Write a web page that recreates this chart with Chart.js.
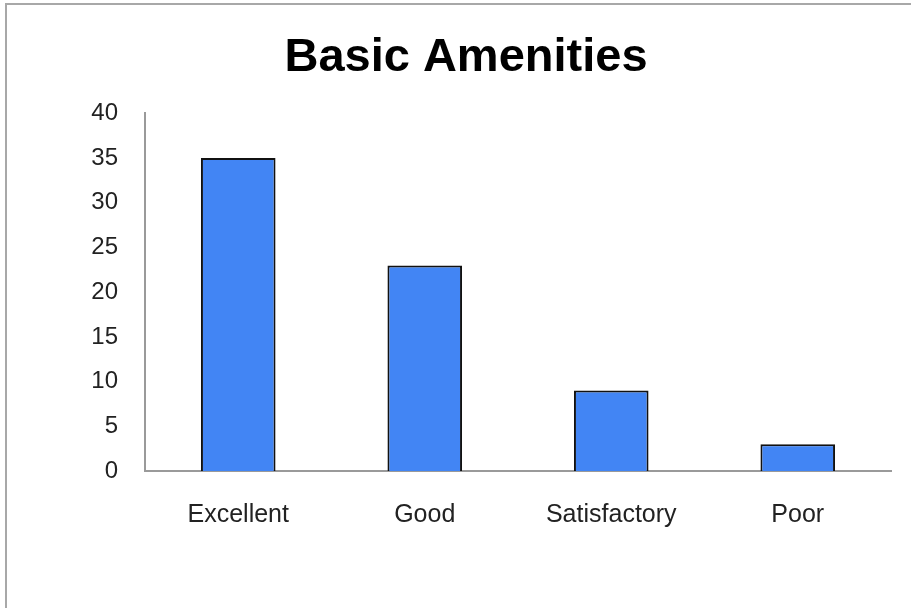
<!DOCTYPE html>
<html>
<head>
<meta charset="utf-8">
<script src="https://cdn.jsdelivr.net/npm/chart.js@4/dist/chart.umd.min.js"></script>
<style>
  html, body { margin: 0; padding: 0; background: #fff; width: 911px; height: 608px; overflow: hidden; }
  #frame { position: absolute; left: 5px; top: 3px; width: 920px; height: 700px;
           border-top: 2px solid #a8a8a8; border-left: 2px solid #a8a8a8; }
  #wrap { position: absolute; left: 0; top: 0; width: 911px; height: 608px; }
</style>
</head>
<body>
<div id="frame"></div>
<div id="wrap"><canvas id="c"></canvas></div>
<script>
const categories = ["Excellent", "Good", "Satisfactory", "Poor"];
const values = [35, 23, 9, 3];
const yTicks = [0, 5, 10, 15, 20, 25, 30, 35, 40];
const titleText = "Basic Amenities";

const FONT = "'Liberation Sans', Arial, sans-serif";

new Chart(document.getElementById('c'), {
  type: 'bar',
  data: {
    labels: categories,
    datasets: [{
      data: values,
      backgroundColor: '#4285f4',
      borderColor: '#111111',
      borderWidth: 2,
      borderSkipped: 'bottom',
      barPercentage: 0.4,
      categoryPercentage: 1.0
    }]
  },
  options: {
    responsive: true,
    maintainAspectRatio: false,
    animation: false,
    layout: { padding: { left: 21, right: 0, top: 0, bottom: 0 } },
    plugins: {
      legend: { display: false },
      tooltip: { enabled: false },
      title: {
        display: true,
        text: titleText,
        color: '#000',
        font: { family: FONT, size: 47, weight: 'bold', lineHeight: 1.2 },
        padding: { top: 30, bottom: 27 }
      }
    },
    scales: {
      x: {
        grid: { display: false, drawTicks: false },
        border: { display: true, color: '#9a9a9a', width: 2 },
        ticks: { color: '#222', font: { family: FONT, size: 25 }, padding: 29, maxRotation: 0, autoSkip: false },
        afterFit: s => { s.height = 137; }
      },
      y: {
        min: 0, max: 40,
        grid: { display: false, drawTicks: false },
        border: { display: true, color: '#9a9a9a', width: 2 },
        afterBuildTicks: s => { s.ticks = yTicks.map(v => ({ value: v })); },
        ticks: { color: '#222', font: { family: FONT, size: 24 }, padding: 27 },
        afterFit: s => { s.width = 124; }
      },
      y2: {
        position: 'right',
        display: true,
        grid: { display: false, drawTicks: false },
        border: { display: false },
        ticks: { display: false },
        afterFit: s => { s.width = 20; }
      }
    }
  }
});
</script>
</body>
</html>
